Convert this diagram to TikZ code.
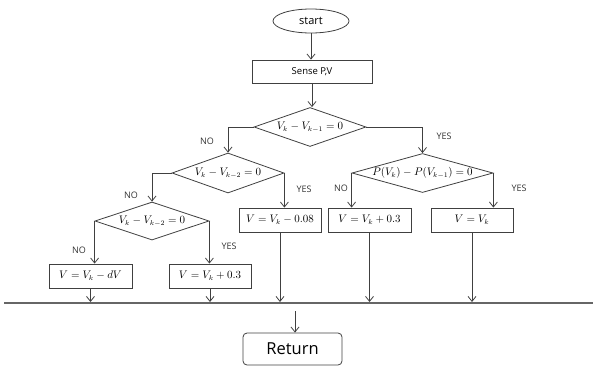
\documentclass[tikz,border=0pt]{standalone}
\usepackage{fontspec}
\setmainfont{Open Sans}
\usetikzlibrary{shapes.geometric,arrows.meta}
\begin{document}
\begin{tikzpicture}[x=1pt,y=-1pt,
  ln/.style={draw=black!75, line width=0.8pt},
  arr/.style={ln, -{Straight Barb[length=5pt,width=8pt]}},
  boxn/.style={ln, rectangle, minimum height=24pt, inner sep=0pt, font=\fontsize{10.5}{12}\selectfont},
  dia/.style={ln, diamond, inner sep=0pt},
  lab/.style={font=\fontsize{9}{10}\selectfont, text=black!80},
  mth/.style={font=\fontsize{10.5}{12}\selectfont, inner sep=0pt}]
\useasboundingbox (0,0) rectangle (593,367);
% top
\node[ln, ellipse, minimum width=76pt, minimum height=24pt, inner sep=0pt, font=\fontsize{11}{13}\selectfont] (st) at (311,21) {start};
\node[boxn, minimum width=120pt, minimum height=23pt, font=\fontsize{9.5}{11}\selectfont] (sense) at (312,71.5) {Sense P,V};
\node[dia, minimum width=112pt, minimum height=39pt] (d1) at (310,127) {};
\node[mth] at (d1) {$V_k - V_{k-1} = 0$};
\node[dia, minimum width=112pt, minimum height=40pt] (d2) at (228,173) {};
\node[mth] at (d2) {$V_k - V_{k-2} = 0$};
\node[dia, minimum width=141pt, minimum height=39pt] (d3) at (422.5,173) {};
\node[mth] at (d3) {$P(V_k) - P(V_{k-1}) = 0$};
\node[dia, minimum width=114pt, minimum height=38pt] (d4) at (152,221) {};
\node[mth] at (d4) {$V_k - V_{k-2} = 0$};
% boxes
\node[boxn, minimum width=82pt] (b08) at (280,220) {$V = V_k - 0.08$};
\node[boxn, minimum width=83pt] (b3a) at (369.5,220) {$V = V_k + 0.3$};
\node[boxn, minimum width=82pt] (bvk) at (472,220) {$V = V_k$};
\node[boxn, minimum width=83pt] (bdv) at (90.5,276) {$V = V_k - dV$};
\node[boxn, minimum width=82pt] (b3b) at (210,276) {$V = V_k + 0.3$};
% return
\node[ln, rectangle, rounded corners=4pt, minimum width=99pt, minimum height=32pt, inner sep=0pt, font=\fontsize{16.5}{19}\selectfont] (ret) at (292.5,349) {Return};
% bus
\coordinate (busL) at (4,303);
\coordinate (busR) at (593,303);
\draw[draw=black!60, line width=1.4pt] (busL) -- (busR);
\coordinate (rin) at (295,311);
% connectors
\draw[arr] (st.south) -- (sense.north -| st.south);
\draw[arr] (sense.south) -- (d1.north -| sense.south);
\draw[arr] (d1.west) -| (d2.north);
\draw[arr] (d1.east) -| (d3.north);
\draw[arr] (d2.west) -| (d4.north);
\draw[arr] (d2.east) -- (d2.east |- b08.north);
\draw[arr] (d3.west) -- (d3.west |- b3a.north);
\draw[arr] (d3.east) -- (d3.east |- bvk.north);
\draw[arr] (d4.west) -- (d4.west |- bdv.north);
\draw[arr] (d4.east) -- (d4.east |- b3b.north);
\foreach \b in {bdv,b3b,b08,b3a,bvk}{
  \draw[arr] (\b.south) -- ([yshift=1pt]\b.south |- busL);
}
\draw[arr] (rin) -- (rin |- ret.north);
% labels
\node[lab] at (207,141) {NO};
\node[lab] at (444,136) {YES};
\node[lab] at (131,195) {NO};
\node[lab] at (304,189) {YES};
\node[lab] at (341,188) {NO};
\node[lab] at (519,188) {YES};
\node[lab] at (79,250) {NO};
\node[lab] at (229,246) {YES};
\end{tikzpicture}
\end{document}
